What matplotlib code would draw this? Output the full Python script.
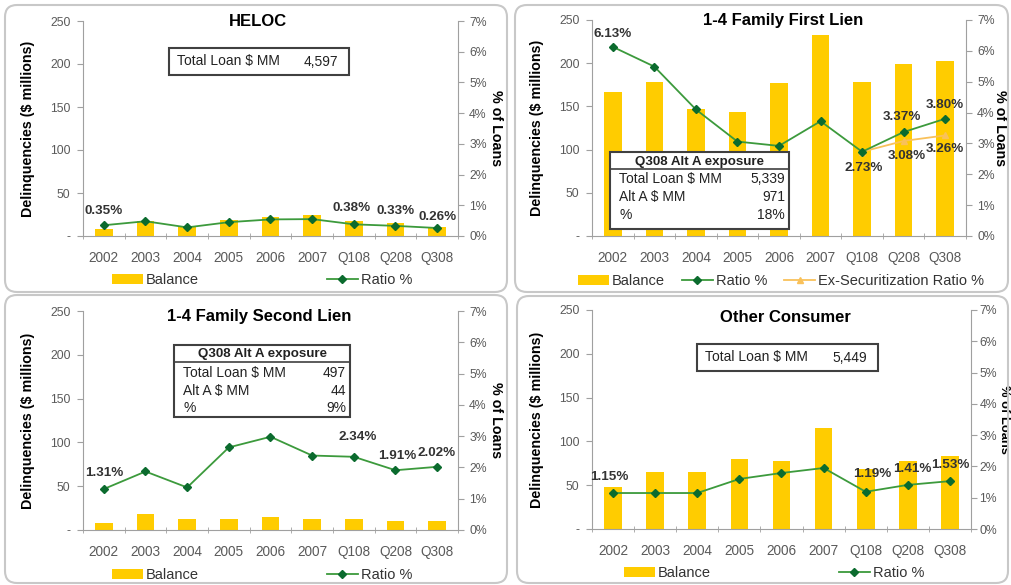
import numpy as np
import matplotlib
matplotlib.use('Agg')
import matplotlib.pyplot as plt
from matplotlib.patches import FancyBboxPatch, Rectangle, Patch
from matplotlib.lines import Line2D
from matplotlib.ticker import FuncFormatter

plt.rcParams['font.family'] = ['Liberation Sans', 'DejaVu Sans']

categories = ['2002', '2003', '2004', '2005', '2006', '2007', 'Q108', 'Q208', 'Q308']

heloc_balance = [8, 17, 11, 19, 22, 25, 18, 15, 11]
heloc_ratio = [0.35, 0.48, 0.28, 0.45, 0.54, 0.55, 0.38, 0.33, 0.26]

first_balance = [167, 178, 147, 144, 177, 233, 178, 199, 203]
first_ratio = [6.13, 5.49, 4.10, 3.06, 2.92, 3.72, 2.73, 3.37, 3.80]
first_exsec = [np.nan, np.nan, np.nan, np.nan, np.nan, np.nan, 2.73, 3.08, 3.26]

second_balance = [8, 18, 12, 13, 15, 13, 12, 10, 10]
second_ratio = [1.31, 1.87, 1.36, 2.64, 2.98, 2.38, 2.34, 1.91, 2.02]

other_balance = [48, 65, 65, 80, 78, 115, 68, 78, 83]
other_ratio = [1.15, 1.15, 1.15, 1.60, 1.79, 1.95, 1.19, 1.41, 1.53]

heloc_total = '4,597'
first_table = [('Total Loan $ MM', '5,339'), ('Alt A $ MM', '971'), ('%', '18%')]
second_table = [('Total Loan $ MM', '497'), ('Alt A $ MM', '44'), ('%', '9%')]
other_total = '5,449'

BAR = '#FFCC00'
GREEN = '#3C9A3C'
DKGREEN = '#0B6B2E'
ORANGE = '#F9C15A'
GREY = '#5A5A5A'

W, H = 1011, 585
fig = plt.figure(figsize=(W / 100, H / 100), dpi=100)


def fx(x):
    return x / W


def fy(y):
    return 1 - y / H


def panel(box, title, title_xy, balance, ratio, labels, exsec=None, exlabels=(),
          rlab=45, rpad=4, rsize=10.3):
    l, t, r, b = box
    ax = fig.add_axes([fx(l), fy(b), (r - l) / W, (b - t) / H])
    x = np.arange(len(categories))
    ax.bar(x, balance, width=0.42, color=BAR, zorder=2)
    ax.set_xlim(-0.5, 8.5)
    ax.set_ylim(0, 250)
    ax.set_yticks(range(0, 251, 50))
    ax.yaxis.set_major_formatter(FuncFormatter(lambda v, p: '-' if v == 0 else '%d' % v))
    ax.set_xticks(x)
    ax.set_xticklabels(categories)
    ax.set_xticks(np.arange(-0.5, 9, 1), minor=True)
    ax.tick_params(axis='x', which='major', length=0, pad=11, labelsize=9.8, labelcolor=GREY)
    ax.tick_params(axis='x', which='minor', length=5, direction='inout', color='#A0A0A0')
    ax.tick_params(axis='y', length=4, color='#A0A0A0', labelsize=8.8, labelcolor=GREY, pad=5)
    for s in ['top', 'right']:
        ax.spines[s].set_visible(False)
    for s in ['left', 'bottom']:
        ax.spines[s].set_color('#A0A0A0')
    ax.set_ylabel('Delinquencies ($ millions)', fontsize=10.3, fontweight='bold')
    ax.yaxis.set_label_coords(-48 / (r - l), 0.5)

    ax2 = ax.twinx()
    ax2.set_ylim(0, 7)
    ax2.set_yticks(range(0, 8))
    ax2.yaxis.set_major_formatter(FuncFormatter(lambda v, p: '%d%%' % v))
    ax2.tick_params(axis='y', length=4, color='#A0A0A0', labelsize=8.8, labelcolor=GREY, pad=rpad)
    for s in ['top', 'left', 'bottom']:
        ax2.spines[s].set_visible(False)
    ax2.spines['right'].set_color('#A0A0A0')
    ax2.set_ylabel('% of Loans', fontsize=rsize, fontweight='bold', rotation=270)
    ax2.yaxis.set_label_coords(1 + rlab / (r - l), 0.5)

    ax2.plot(x, ratio, color=GREEN, lw=1.3, marker='D', ms=4, mfc=DKGREEN, mec=DKGREEN, zorder=3)
    if exsec is not None:
        ax2.plot(x, exsec, color=ORANGE, lw=1.3, marker='^', ms=4, mfc=ORANGE, mec=ORANGE, zorder=2)
    for i, dx, dy in labels:
        ax2.annotate('%.2f%%' % ratio[i], (x[i], ratio[i]), xytext=(dx, dy), textcoords='offset pixels',
                     ha='center', va='center', fontsize=9.7, fontweight='bold', color='#333333')
    for i, dx, dy in exlabels:
        ax2.annotate('%.2f%%' % exsec[i], (x[i], exsec[i]), xytext=(dx, dy), textcoords='offset pixels',
                     ha='center', va='center', fontsize=9.7, fontweight='bold', color='#333333')

    fig.text(fx(title_xy[0]), fy(title_xy[1]), title, ha='center', va='center',
             fontsize=12, fontweight='bold')
    return ax, ax2


def legend(center, handles, labels, spacing):
    fig.legend(handles, labels, loc='center', bbox_to_anchor=(fx(center[0]), fy(center[1])),
               ncol=len(handles), frameon=False, fontsize=10.5, handlelength=2.1, handleheight=0.75,
               handletextpad=0.2, columnspacing=spacing, labelcolor='#333333')


bal_h = Patch(facecolor=BAR, edgecolor='none')
rat_h = Line2D([], [], color=GREEN, lw=1.3, marker='D', ms=4, mfc=DKGREEN, mec=DKGREEN)
ex_h = Line2D([], [], color=ORANGE, lw=1.3, marker='^', ms=4, mfc=ORANGE, mec=ORANGE)

# HELOC
panel((83, 21, 458, 236), 'HELOC', (258, 21), heloc_balance, heloc_ratio,
      [(0, 0, 14), (6, -2, 16), (7, 0, 15), (8, 0, 11)])
legend((262, 280), [bal_h, rat_h], ['Balance', 'Ratio %'], 8.8)

# 1-4 Family First Lien
panel((592, 20, 966, 236), '1-4 Family First Lien', (783, 20), first_balance, first_ratio,
      [(0, 0, 13), (7, -2, 15), (8, 0, 14), (6, 2, -16)], exsec=first_exsec,
      exlabels=[(7, 3, -15), (8, 0, -14)], rlab=41)
legend((781, 281), [bal_h, rat_h, ex_h], ['Balance', 'Ratio %', 'Ex-Securitization Ratio %'], 1.2)

# 1-4 Family Second Lien
panel((83, 311, 458, 530), '1-4 Family Second Lien', (259, 316), second_balance, second_ratio,
      [(0, 0, 16), (6, 4, 20), (7, 2, 14), (8, -1, 14)])
legend((262, 575), [bal_h, rat_h], ['Balance', 'Ratio %'], 8.8)

# Other Consumer
panel((592, 310, 971, 529), 'Other Consumer', (785, 317), other_balance, other_ratio,
      [(0, -4, 16), (6, 7, 18), (7, 4, 16), (8, 0, 16)], rlab=39, rpad=2, rsize=9.3)
legend((774, 573), [bal_h, rat_h], ['Balance', 'Ratio %'], 8.8)

# overlay for frames and text boxes
ov = fig.add_axes([0, 0, 1, 1], zorder=10)
ov.set_xlim(0, W)
ov.set_ylim(H, 0)
ov.axis('off')
ov.patch.set_alpha(0)

for (x0, y0, x1, y1) in [(5, 5, 507, 292), (515, 5, 1008, 292), (5, 295, 507, 583), (517, 296, 1008, 583)]:
    ov.add_patch(FancyBboxPatch((x0, y0), x1 - x0, y1 - y0, boxstyle='round,pad=0,rounding_size=12',
                                fc='none', ec='#C8C8C8', lw=1.5))


def total_box(x0, y0, x1, y1, value):
    ov.add_patch(Rectangle((x0, y0), x1 - x0, y1 - y0, fc='white', ec='#404040', lw=1.5))
    ym = (y0 + y1) / 2
    ov.text(x0 + 8, ym, 'Total Loan $ MM', ha='left', va='center', fontsize=10, color='#222222')
    ov.text(x1 - 11, ym, value, ha='right', va='center', fontsize=10, color='#222222')


def alt_table(x0, y0, x1, y1, head_y, rows_y, rows):
    ov.add_patch(Rectangle((x0, y0), x1 - x0, y1 - y0, fc='white', ec='#404040', lw=1.5))
    ov.plot([x0, x1], [head_y, head_y], color='#404040', lw=1.2)
    ov.text((x0 + x1) / 2, (y0 + head_y) / 2 + 1, 'Q308 Alt A exposure', ha='center', va='center',
            fontsize=9.6, fontweight='bold', color='#222222')
    for (name, val), yy in zip(rows, rows_y):
        ov.text(x0 + 9, yy, name, ha='left', va='center', fontsize=10, color='#222222')
        ov.text(x1 - 4, yy, val, ha='right', va='center', fontsize=10, color='#222222')


total_box(169, 48, 349, 75, heloc_total)
total_box(697, 344, 878, 371, other_total)
alt_table(610, 152, 789, 229, 169, [179, 197, 215], first_table)
alt_table(174, 345, 350, 417, 362, [373, 391, 408], second_table)

fig.savefig('out.png', dpi=100, facecolor='white')
